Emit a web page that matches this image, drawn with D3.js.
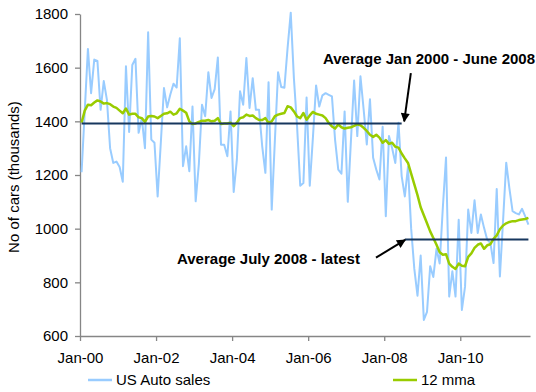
<!doctype html>
<html lang="en">
<head>
<meta charset="UTF-8">
<title>US Auto sales</title>
<script src="https://cdn.jsdelivr.net/npm/d3@7"></script>
<style>
  body { margin: 0; background: #fff; }
  svg text { font-family: "Liberation Sans", Arial, sans-serif; fill: #000; }
</style>
</head>
<body>
<script>
  var width = 536, height = 392;
  var plot = {left: 80, right: 530, top: 14, bottom: 336};

  // monthly US auto sales, Jan 2000 onwards (thousands)
  var sales = [
    1210,1440,1670,1505,1630,1625,1443,1550,1480,1300,1245,1250,
    1230,1175,1605,1360,1610,1633,1357,1412,1300,1732,1332,1320,
    1120,1320,1524,1452,1500,1540,1526,1710,1233,1307,1214,1455,
    1102,1240,1462,1419,1583,1487,1520,1638,1313,1313,1270,1437,
    1137,1257,1512,1462,1636,1450,1561,1443,1443,1307,1208,1546,
    1071,1330,1583,1528,1525,1673,1805,1560,1381,1160,1170,1489,
    1160,1340,1534,1455,1497,1505,1499,1493,1330,1220,1205,1437,
    1100,1330,1552,1345,1568,1445,1314,1482,1264,1220,1183,1380,
    1046,1345,1300,1245,1395,1196,1120,1230,1000,850,750,900,
    660,690,860,820,925,870,1080,1265,747,841,747,1033,
    697,784,1071,984,1106,984,1053,1003,959,946,872,1148,
    822,1030,1246,1150,1065,1058,1053,1074,1046,1015
  ];
  // 12 month moving average
  var mma12 = [
    1395,1440,1462,1460,1470,1478,1474,1466,1468,1464,1455,1450,
    1440,1430,1448,1425,1428,1428,1415,1412,1398,1418,1420,1418,
    1412,1420,1428,1430,1436,1425,1430,1447,1440,1432,1400,1390,
    1392,1398,1402,1402,1405,1400,1402,1412,1390,1392,1392,1395,
    1382,1395,1412,1415,1425,1420,1422,1412,1405,1405,1412,1394,
    1400,1419,1425,1428,1431,1456,1452,1437,1418,1412,1431,1406,
    1422,1435,1428,1425,1422,1412,1394,1381,1373,1388,1378,1373,
    1376,1378,1383,1389,1385,1376,1364,1350,1342,1350,1339,1320,
    1330,1316,1320,1305,1302,1280,1262,1245,1205,1165,1125,1080,
    1050,1020,990,965,940,912,903,905,870,858,850,870,
    862,860,895,908,928,940,945,925,938,942,962,975,
    998,1012,1020,1025,1028,1028,1032,1034,1036,1040
  ];
  // averages: [first month, last month, value]
  var avgPre = [0, 101, 1392];   // Jan 2000 - June 2008
  var avgPost = [102, 141, 960]; // July 2008 - latest

  var yTicks = [600, 800, 1000, 1200, 1400, 1600, 1800];
  var xTicks = [0, 24, 48, 72, 96, 120];
  var xLabels = ['Jan-00', 'Jan-02', 'Jan-04', 'Jan-06', 'Jan-08', 'Jan-10'];

  var fs = 15;

  var svg = d3.select("body").append("svg")
      .attr("width", width)
      .attr("height", height);

  var x = d3.scaleLinear().domain([0, sales.length]).range([plot.left, plot.right]);
  var y = d3.scaleLinear().domain([600, 1800]).range([plot.bottom, plot.top]);

  // arrow head
  svg.append("defs").append("marker")
      .attr("id", "arrow")
      .attr("viewBox", "0 0 10 10")
      .attr("refX", 9).attr("refY", 5)
      .attr("markerUnits", "userSpaceOnUse")
      .attr("markerWidth", 11).attr("markerHeight", 9)
      .attr("orient", "auto")
      .append("path")
      .attr("d", "M0,0L10,5L0,10Z")
      .attr("fill", "#000");

  // axes
  var yAxis = svg.append("g")
      .attr("transform", "translate(" + plot.left + ",0)")
      .call(d3.axisLeft(y).tickValues(yTicks).tickSize(5).tickSizeOuter(0).tickPadding(7)
        .tickFormat(d3.format("d")));
  var xAxis = svg.append("g")
      .attr("transform", "translate(0," + plot.bottom + ")")
      .call(d3.axisBottom(x).tickValues(xTicks).tickSize(5).tickSizeOuter(0).tickPadding(11)
        .tickFormat(function(d, i) { return xLabels[i]; }));
  [yAxis, xAxis].forEach(function(g) {
    g.selectAll("path, line").attr("stroke", "#868686").attr("stroke-width", 1.3);
    g.selectAll("text").attr("font-size", fs).attr("fill", "#000");
  });

  svg.append("text")
      .attr("transform", "translate(19,177) rotate(-90)")
      .attr("text-anchor", "middle")
      .attr("font-size", fs)
      .text("No of cars (thousands)");

  // series
  var line = d3.line()
      .x(function(d, i) { return x(i + 0.5); })
      .y(function(d) { return y(d); });

  svg.append("path")
      .datum(sales)
      .attr("fill", "none")
      .attr("stroke", "#99CCFF")
      .attr("stroke-width", 2)
      .attr("stroke-linejoin", "round")
      .attr("d", line);

  svg.append("path")
      .datum(mma12)
      .attr("fill", "none")
      .attr("stroke", "#99CC00")
      .attr("stroke-width", 2.5)
      .attr("stroke-linejoin", "round")
      .attr("d", line);

  [avgPre, avgPost].forEach(function(a) {
    svg.append("line")
        .attr("x1", x(a[0] + 0.5)).attr("x2", x(a[1] + 0.5))
        .attr("y1", y(a[2])).attr("y2", y(a[2]))
        .attr("stroke", "#17375E")
        .attr("stroke-width", 2);
  });

  // annotations
  svg.append("text")
      .attr("x", 535).attr("y", 64)
      .attr("text-anchor", "end")
      .attr("font-size", fs).attr("font-weight", "bold")
      .text("Average Jan 2000 - June 2008");
  svg.append("line")
      .attr("x1", x(104.4)).attr("y1", y(1580))
      .attr("x2", x(102.3)).attr("y2", y(1400))
      .attr("stroke", "#000").attr("stroke-width", 2)
      .attr("marker-end", "url(#arrow)");

  svg.append("text")
      .attr("x", 177).attr("y", 264)
      .attr("font-size", fs).attr("font-weight", "bold")
      .text("Average July 2008 - latest");
  svg.append("line")
      .attr("x1", x(93.4)).attr("y1", y(892))
      .attr("x2", x(102.6)).attr("y2", y(958))
      .attr("stroke", "#000").attr("stroke-width", 2)
      .attr("marker-end", "url(#arrow)");

  // legend
  var legend = [
    {name: "US Auto sales", color: "#99CCFF", x: 88},
    {name: "12 mma", color: "#99CC00", x: 393}
  ];
  var lg = svg.selectAll(".legend").data(legend).enter().append("g")
      .attr("class", "legend")
      .attr("transform", function(d) { return "translate(" + d.x + ",380)"; });
  lg.append("line")
      .attr("x1", 0).attr("x2", 24)
      .attr("stroke", function(d) { return d.color; })
      .attr("stroke-width", 2.5);
  lg.append("text")
      .attr("x", 28).attr("y", 5)
      .attr("font-size", fs)
      .text(function(d) { return d.name; });
</script>
</body>
</html>
